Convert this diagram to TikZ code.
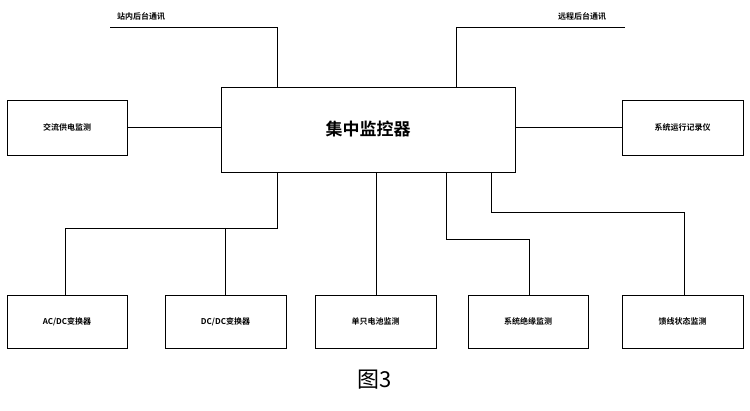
\documentclass[tikz,border=0pt]{standalone}
\usepackage{fontspec}
\setmainfont{Noto Sans CJK SC}[BoldFont={Noto Sans CJK SC Bold}]
\begin{document}
\begin{tikzpicture}[x=1pt,y=-1pt,
 box/.style={draw,line width=0.8pt,inner sep=0pt,font=\fontsize{8}{9}\selectfont\bfseries},
 ln/.style={line width=0.8pt}]
\useasboundingbox (0,0) rectangle (750,411);
\node[box,minimum width=294,minimum height=85,font=\fontsize{17}{19}\selectfont\bfseries] (c) at (368,129.5) {集中监控器};
\node[box,minimum width=120,minimum height=55] (l) at (67,127.5) {交流供电监测};
\node[box,minimum width=121,minimum height=55] (r) at (682.5,127.5) {系统运行记录仪};
\node[box,minimum width=120,minimum height=53] (b1) at (67,321.5) {AC/DC变换器};
\node[box,minimum width=121,minimum height=53] (b2) at (225.5,321.5) {DC/DC变换器};
\node[box,minimum width=121,minimum height=53] (b3) at (375.5,321.5) {单只电池监测};
\node[box,minimum width=120,minimum height=53] (b4) at (528,321.5) {系统绝缘监测};
\node[box,minimum width=121,minimum height=53] (b5) at (682.5,321.5) {馈线状态监测};
\node[font=\fontsize{8}{9}\selectfont\bfseries] (t1) at (141,16) {站内后台通讯};
\node[font=\fontsize{8}{9}\selectfont\bfseries] (t2) at (582,16) {远程后台通讯};
\node[font=\fontsize{22}{24}\selectfont] (cap) at (375,380) {图3};
\coordinate (p1) at (110,27); \coordinate (p2) at (625,27);
\draw[ln] (p1) -| (c.north -| 277,0);
\draw[ln] (p2) -| (c.north -| 456,0);
\draw[ln] (l.east) -- (c.west |- l.east);
\draw[ln] (r.west) -- (c.east |- r.east);
\draw[ln] (c.south -| 277,0) |- (65,228) -- (b1.north -| 65,0);
\draw[ln] (225,228) -- (b2.north -| 225,0);
\draw[ln] (c.south -| 376,0) -- (b3.north -| 376,0);
\draw[ln] (c.south -| 446,0) |- (529,239) -- (b4.north -| 529,0);
\draw[ln] (c.south -| 491,0) |- (684,212) -- (b5.north -| 684,0);
\end{tikzpicture}
\end{document}
